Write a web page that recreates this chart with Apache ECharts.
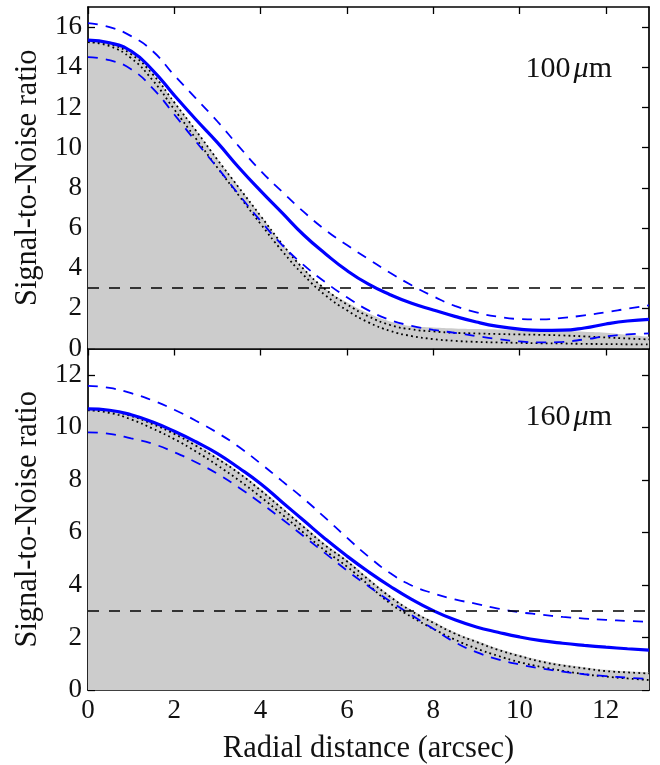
<!DOCTYPE html>
<html>
<head>
<meta charset="utf-8">
<script src="https://cdn.jsdelivr.net/npm/echarts@6/dist/echarts.min.js"></script>
<style>html,body{margin:0;padding:0;background:#fff}#c{width:660px;height:765px}</style>
</head>
<body>
<div id="c"></div>
<script>
// ---- data ----
const radius = [0,0.5,1,1.5,2,2.5,3,3.5,4,4.5,5,5.5,6,6.5,7,7.5,8,8.5,9,9.5,10,10.5,11,11.5,12,12.5,13];

// 100 micron panel
const snr100   = [15.35,15.22,14.8,13.85,12.6,11.4,10.25,9.0,7.85,6.75,5.65,4.72,3.88,3.2,2.68,2.25,1.92,1.6,1.32,1.1,0.96,0.9,0.91,1.02,1.22,1.37,1.45];
const snr100Hi = [16.2,16.0,15.55,14.8,13.6,12.45,11.3,10.05,8.85,7.8,6.8,5.9,5.15,4.45,3.77,3.15,2.6,2.12,1.8,1.58,1.47,1.45,1.52,1.65,1.8,1.98,2.15];
const snr100Lo = [14.5,14.35,13.9,12.95,11.65,10.3,9.0,7.65,6.35,5.15,4.15,3.3,2.55,1.9,1.42,1.13,0.93,0.78,0.62,0.47,0.35,0.3,0.33,0.45,0.6,0.7,0.75];
const psf100   = [15.32,15.18,14.68,13.68,12.28,10.88,9.43,8.03,6.63,5.23,3.98,2.98,2.3,1.75,1.35,1.12,1.05,1.0,0.97,0.95,0.93,0.9,0.88,0.83,0.78,0.68,0.58];
const psf100Hi = [15.3,15.15,14.65,13.65,12.25,10.85,9.4,8.0,6.6,5.2,3.95,2.95,2.2,1.6,1.17,0.95,0.85,0.78,0.75,0.72,0.7,0.68,0.65,0.6,0.55,0.5,0.45];
const psf100Lo = [15.25,15.05,14.45,13.35,11.9,10.45,9.0,7.6,6.2,4.85,3.65,2.65,1.9,1.3,0.88,0.62,0.47,0.38,0.33,0.3,0.28,0.26,0.25,0.23,0.22,0.21,0.2];

// 160 micron panel
const snr160   = [10.7,10.65,10.48,10.2,9.85,9.45,9.0,8.45,7.85,7.15,6.45,5.75,5.1,4.5,3.95,3.45,3.02,2.67,2.4,2.2,2.02,1.88,1.78,1.7,1.63,1.57,1.52];
const snr160Hi = [11.58,11.5,11.3,11.02,10.67,10.25,9.79,9.25,8.62,7.95,7.28,6.55,5.8,5.08,4.45,3.98,3.68,3.45,3.28,3.1,2.96,2.87,2.78,2.72,2.67,2.63,2.59];
const snr160Lo = [9.81,9.75,9.58,9.37,9.05,8.67,8.23,7.7,7.12,6.5,5.85,5.2,4.55,3.95,3.38,2.85,2.33,1.82,1.44,1.17,0.97,0.82,0.7,0.6,0.53,0.47,0.42];
const psf160   = [10.72,10.66,10.47,10.18,9.8,9.36,8.86,8.3,7.66,6.96,6.26,5.56,4.96,4.26,3.6,3.05,2.62,2.2,1.88,1.58,1.34,1.13,0.98,0.87,0.77,0.71,0.67];
const psf160Hi = [10.7,10.63,10.43,10.12,9.75,9.3,8.8,8.25,7.6,6.9,6.2,5.5,4.9,4.2,3.55,3.0,2.56,2.15,1.83,1.53,1.29,1.08,0.93,0.82,0.72,0.67,0.63];
const psf160Lo = [10.65,10.55,10.3,9.95,9.55,9.08,8.55,7.98,7.35,6.68,5.98,5.3,4.7,4.0,3.3,2.78,2.33,1.92,1.58,1.3,1.06,0.88,0.73,0.6,0.51,0.44,0.38];

const threshold = 3;
const xTicks = [0,2,4,6,8,10,12];
const yTicks100 = [0,2,4,6,8,10,12,14,16];
const yTicks160 = [0,2,4,6,8,10,12];
const bandLabels = ['100', '160'];

// ---- chart ----
const FONT = 'Liberation Serif';
const pair = ys => radius.map((x, i) => [x, ys[i]]);
const BLUE = '#0000ff';

function xAx(grid, pos, labels) {
  return {
    type: 'value', gridIndex: grid, position: pos, min: 0, max: 13,
    axisLine: {show: true, onZero: false, lineStyle: {color: '#000', width: 1.7}},
    axisTick: {show: true, inside: true, length: 7, customValues: xTicks, lineStyle: {color: '#000', width: 1.3}},
    axisLabel: {show: labels, customValues: xTicks, margin: 7, color: '#111', fontFamily: FONT, fontSize: 27},
    splitLine: {show: false},
    name: labels ? 'Radial distance (arcsec)' : '',
    nameLocation: 'middle', nameGap: 43,
    nameTextStyle: {color: '#111', fontFamily: FONT, fontSize: 30.5}
  };
}
function yAx(grid, pos, max, ticks, labels) {
  return {
    type: 'value', gridIndex: grid, position: pos, min: 0, max: max,
    axisLine: {show: true, onZero: false, lineStyle: {color: '#000', width: 1.7}},
    axisTick: {show: true, inside: true, length: 7, customValues: ticks, lineStyle: {color: '#000', width: 1.3}},
    axisLabel: {show: labels, customValues: ticks, margin: 6, color: '#111', fontFamily: FONT, fontSize: 27},
    splitLine: {show: false},
    name: labels ? 'Signal-to-Noise ratio' : '',
    nameLocation: 'middle', nameGap: 45, nameRotate: 90,
    nameTextStyle: {color: '#111', fontFamily: FONT, fontSize: 30.5}
  };
}

function panel(xi, yi, snr, hi, lo, psf, phi, plo) {
  const base = {type: 'line', xAxisIndex: xi, yAxisIndex: yi, showSymbol: false, symbol: 'none', smooth: 0.5, animation: false};
  return [
    Object.assign({}, base, {data: pair(psf), lineStyle: {width: 0}, areaStyle: {color: '#cccccc', opacity: 1}, z: 1}),
    Object.assign({}, base, {data: pair(phi), lineStyle: {color: '#000', width: 1.8, type: [1.8, 3.2]}, z: 2}),
    Object.assign({}, base, {data: pair(plo), lineStyle: {color: '#000', width: 1.8, type: [1.8, 3.2]}, z: 2}),
    Object.assign({}, base, {data: pair(hi), lineStyle: {color: BLUE, width: 1.8, type: [10, 8]}, z: 3}),
    Object.assign({}, base, {data: pair(lo), lineStyle: {color: BLUE, width: 1.8, type: [10, 8]}, z: 3}),
    Object.assign({}, base, {data: pair(snr), lineStyle: {color: BLUE, width: 3.2}, z: 4,
      markLine: {silent: true, symbol: 'none', label: {show: false},
        lineStyle: {color: '#000', width: 1.7, type: [11, 10]},
        data: [{yAxis: threshold}]}})
  ];
}

const richLbl = {
  n: {fontFamily: FONT, fontSize: 30, fill: '#111'},
  s: {fontFamily: FONT, fontSize: 12, fill: '#111'},
  m: {fontFamily: FONT, fontSize: 30, fontStyle: 'italic', fill: '#111'}
};
const chart = echarts.init(document.getElementById('c'), null, {renderer: 'canvas'});
chart.setOption({
  backgroundColor: '#fff',
  animation: false,
  grid: [
    {left: 88, top: 7, width: 561, height: 341.5, show: false},
    {left: 88, top: 348.5, width: 561, height: 342.2, show: false}
  ],
  xAxis: [xAx(0, 'bottom', false), xAx(0, 'top', false), xAx(1, 'bottom', true), xAx(1, 'top', false)],
  yAxis: [yAx(0, 'left', 17, yTicks100, true), yAx(0, 'right', 17, yTicks100, false),
          yAx(1, 'left', 13, yTicks160, true), yAx(1, 'right', 13, yTicks160, false)],
  series: [].concat(
    panel(0, 0, snr100, snr100Hi, snr100Lo, psf100, psf100Hi, psf100Lo),
    panel(2, 2, snr160, snr160Hi, snr160Lo, psf160, psf160Hi, psf160Lo)
  ),
  graphic: [
    {type: 'text', right: 48, top: 54, style: {text: '{n|' + bandLabels[0] + '}{s| }{m|\u03bc}{n|m}', rich: richLbl}},
    {type: 'text', right: 48, top: 402, style: {text: '{n|' + bandLabels[1] + '}{s| }{m|\u03bc}{n|m}', rich: richLbl}}
  ]
});
</script>
</body>
</html>
